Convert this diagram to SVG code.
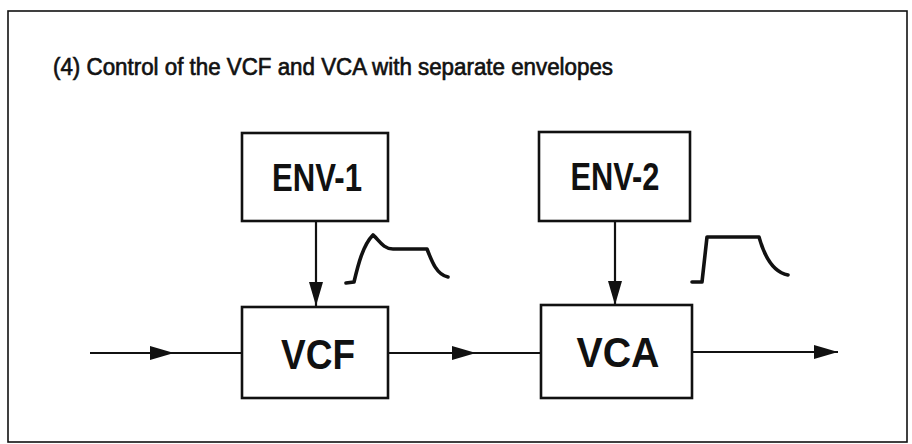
<svg xmlns="http://www.w3.org/2000/svg" width="912" height="444" viewBox="0 0 912 444">
<defs>
<style>
.frame{fill:none;stroke:#111;stroke-width:1.6}
.box{fill:#fff;stroke:#111;stroke-width:2.6}
.line{fill:none;stroke:#111;stroke-width:2.2}
.env{fill:none;stroke:#111;stroke-width:3.6;stroke-linecap:round;stroke-linejoin:round}
.lbl{font-family:"Liberation Sans",Arial,sans-serif;font-weight:bold;fill:#111;text-anchor:middle}
.title{font-family:"Liberation Sans",Arial,sans-serif;font-size:23px;fill:#111;stroke:#111;stroke-width:0.65}
</style>
<marker id="ah" viewBox="0 0 24 14" refX="24" refY="7" markerWidth="24" markerHeight="14" markerUnits="userSpaceOnUse" orient="auto">
<path d="M0,0 L24,7 L0,14 Z" fill="#111"/>
</marker>
</defs>
<rect width="912" height="444" fill="#fff"/>
<rect class="frame" x="8" y="11" width="899" height="431"/>
<text class="title" x="53" y="75" textLength="560" lengthAdjust="spacingAndGlyphs">(4) Control of the VCF and VCA with separate envelopes</text>
<g id="connectors">
<line class="line" x1="316" y1="221" x2="316" y2="306" marker-end="url(#ah)"/>
<line class="line" x1="615" y1="221" x2="615" y2="305" marker-end="url(#ah)"/>
<line class="line" x1="90" y1="353" x2="174" y2="353" marker-end="url(#ah)"/>
<line class="line" x1="170" y1="353" x2="242" y2="353"/>
<line class="line" x1="389" y1="353" x2="476" y2="353" marker-end="url(#ah)"/>
<line class="line" x1="472" y1="353" x2="540" y2="353"/>
<line class="line" x1="692" y1="352" x2="838" y2="352" marker-end="url(#ah)"/>
</g>
<g id="env1">
<rect class="box" x="242" y="133" width="146" height="88"/>
<text class="lbl" x="317" y="191" font-size="38" textLength="90" lengthAdjust="spacingAndGlyphs">ENV-1</text>
</g>
<g id="vcf">
<rect class="box" x="242" y="307" width="146" height="91"/>
<text class="lbl" x="318" y="369" font-size="43" textLength="74" lengthAdjust="spacingAndGlyphs">VCF</text>
</g>
<g id="env2">
<rect class="box" x="539" y="132" width="151" height="89"/>
<text class="lbl" x="615" y="190" font-size="38" textLength="89" lengthAdjust="spacingAndGlyphs">ENV-2</text>
</g>
<g id="vca">
<rect class="box" x="541" y="305" width="151" height="93"/>
<text class="lbl" x="618" y="367" font-size="43" textLength="83" lengthAdjust="spacingAndGlyphs">VCA</text>
</g>
<g id="envelope-shapes">
<path class="env" d="M346,283 L354,282 C358,265 363,245 373,235 C379,240 383,249 393,249 L427,249 C432,262 437,275 448,277"/>
<path class="env" d="M692,282 L702,282 L707,237 L759,237 C764,255 772,272 788,275"/>
</g>
</svg>
